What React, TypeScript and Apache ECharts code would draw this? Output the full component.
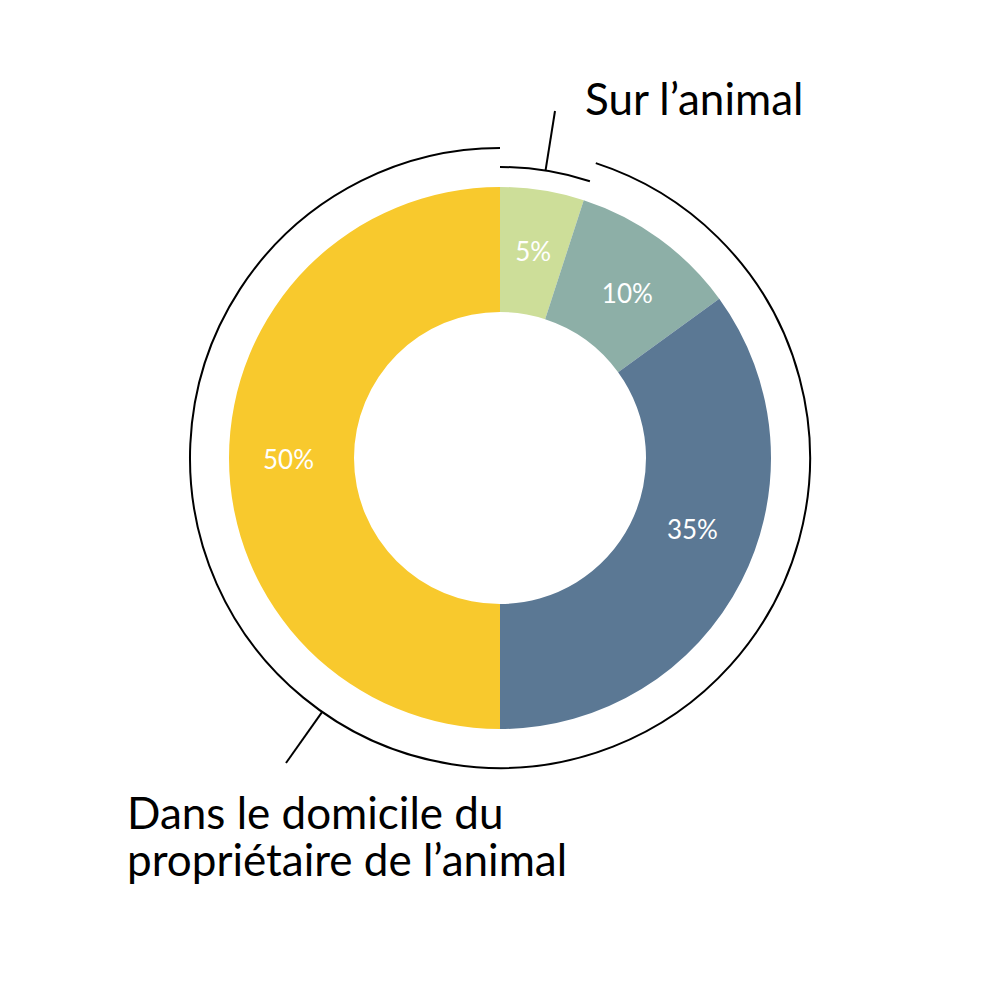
import React, { useEffect, useRef } from "react";
import * as echarts from "echarts";

const categories = ["Sur l’animal (a)", "Sur l’animal (b)", "Domicile (a)", "Domicile (b)"];
const values = [5, 10, 35, 50];
const colors = ["#CDDE99", "#8DAFA7", "#5B7894", "#F8C92D"];
const labelTop = "Sur l’animal";
const labelBottomLines = ["Dans le domicile du", "propriétaire de l’animal"];
const groupSizes = [1, 3];
const labelOffsets = [[0, 2], [3, 6], [4, -25], [0, 1]];

const FONT = "Lato";

export default function App() {
  const ref = useRef<HTMLDivElement>(null);
  useEffect(() => {
    document.body.style.margin = "0";
    const chart = echarts.init(ref.current!, null, { renderer: "svg" });
    const cx = 500;
    const cy = 458;
    const total = values.reduce((a, b) => a + b, 0);
    const cum: number[] = [0];
    values.forEach((v) => cum.push(cum[cum.length - 1] + v));
    const ang = (frac: number) => -Math.PI / 2 + frac * 2 * Math.PI;
    const g1End = cum[groupSizes[0]] / total;
    const rSmall = 291;
    const rBig = 310;
    const pt = (r: number, deg: number) => [
      cx + r * Math.sin((deg * Math.PI) / 180),
      cy - r * Math.cos((deg * Math.PI) / 180),
    ];
    const smallMid = (g1End * 360) / 2;
    const [sx, sy] = pt(rSmall, smallMid);
    const [bx, by] = pt(rBig, 215);

    const textStyle = {
      fontSize: 44,
      fontFamily: FONT,
      fill: "#000",
      verticalAlign: "middle",
      align: "left",
    };

    chart.setOption({
      animation: false,
      series: [
        {
          type: "pie",
          center: [cx, cy],
          radius: [146, 271],
          startAngle: 90,
          clockwise: true,
          silent: true,
          label: {
            show: true,
            position: "inside",
            formatter: "{c}%",
            color: "#ffffff",
            fontSize: 26,
            fontFamily: FONT,
          },
          labelLine: { show: false },
          itemStyle: { borderWidth: 0 },
          emphasis: { disabled: true },
          data: values.map((v, i) => ({
            name: categories[i],
            value: v,
            itemStyle: { color: colors[i] },
            label: { offset: labelOffsets[i] },
          })),
        },
      ],
      graphic: [
        {
          type: "arc",
          shape: { cx, cy, r: rSmall, startAngle: ang(0), endAngle: ang(g1End), clockwise: true },
          style: { stroke: "#000", lineWidth: 2, fill: "none" },
        },
        {
          type: "arc",
          shape: { cx, cy, r: rBig, startAngle: ang(g1End), endAngle: ang(1), clockwise: true },
          style: { stroke: "#000", lineWidth: 2, fill: "none" },
        },
        {
          type: "line",
          shape: { x1: sx, y1: sy, x2: 555, y2: 111 },
          style: { stroke: "#000", lineWidth: 2 },
        },
        {
          type: "line",
          shape: { x1: bx, y1: by, x2: 286, y2: 763 },
          style: { stroke: "#000", lineWidth: 2 },
        },
        {
          type: "text",
          x: 585,
          y: 98,
          style: { ...textStyle, text: labelTop },
        },
        {
          type: "text",
          x: 127,
          y: 812,
          style: { ...textStyle, text: labelBottomLines[0] },
        },
        {
          type: "text",
          x: 127,
          y: 859,
          style: { ...textStyle, text: labelBottomLines[1] },
        },
      ],
    });
    return () => chart.dispose();
  }, []);
  return <div ref={ref} style={{ width: 1000, height: 1000 }} />;
}
